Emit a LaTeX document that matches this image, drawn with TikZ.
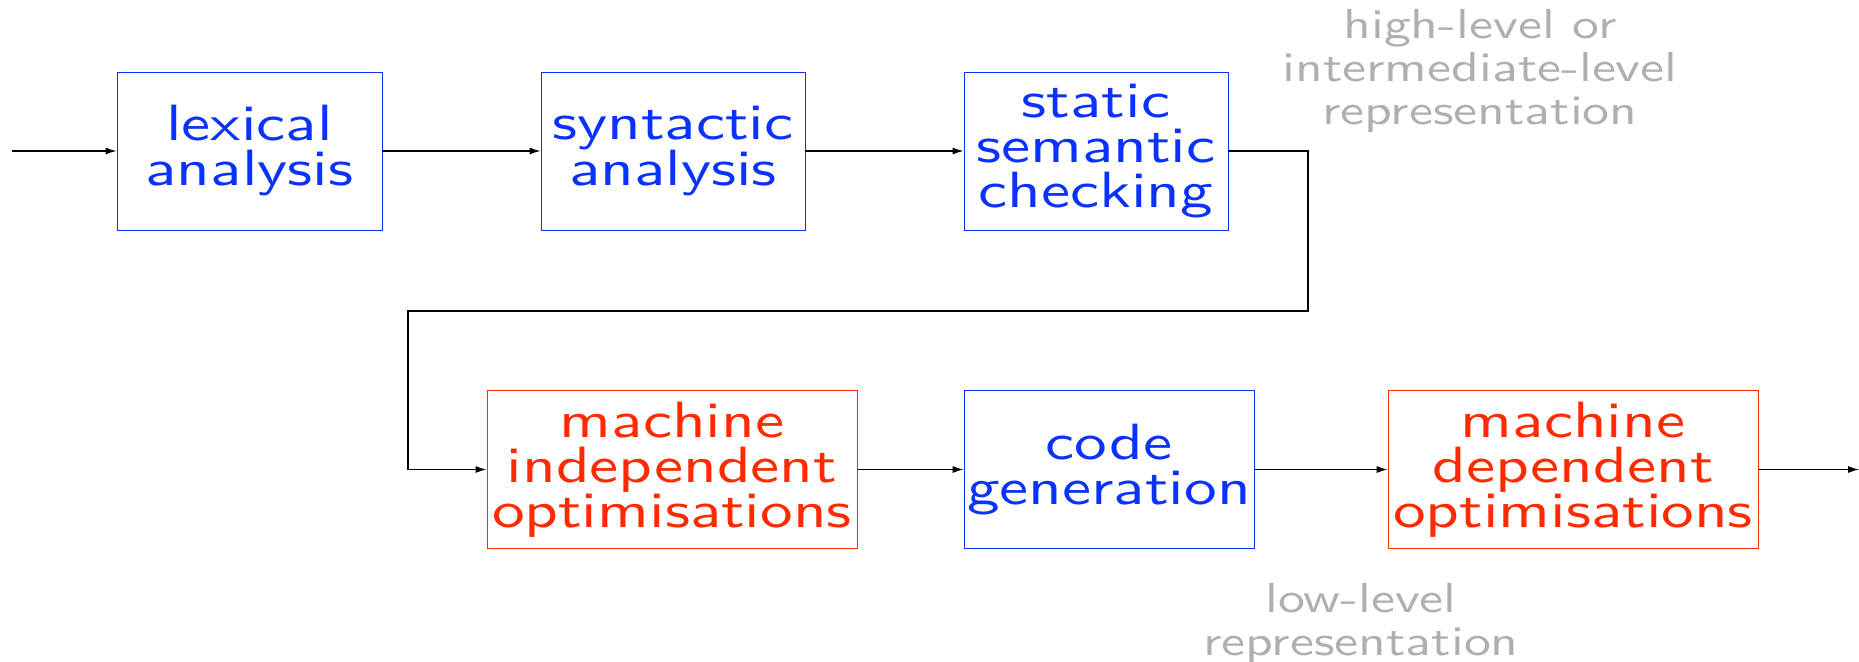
\documentclass[tikz,border=0pt]{standalone}
\usepackage{fontspec}
\usetikzlibrary{arrows.meta}
\newfontfamily\stagefont{lmsans10-regular.otf}[FakeStretch=1.28]
\definecolor{stageblue}{RGB}{10,50,255}
\definecolor{stagered}{RGB}{255,42,0}
\definecolor{notegray}{RGB}{175,175,175}
\tikzset{
  stagebox/.style={draw, line width=0.9pt, align=center, inner sep=0pt,
    minimum height=158pt, font=\stagefont\fontsize{51}{45}\selectfont},
  bluebox/.style={stagebox, draw=stageblue, text=stageblue},
  redbox/.style={stagebox, draw=stagered, text=stagered},
  flow/.style={line width=1.1pt, -{Latex[length=11pt,width=7pt]}},
  note/.style={align=center, text=notegray, inner sep=0pt,
    font=\stagefont\fontsize{42}{43}\selectfont}
}
\begin{document}
\begin{tikzpicture}[x=1pt, y=-1pt]
  \useasboundingbox (0,0) rectangle (1859,661);

  % front end: first row of phases
  \node[bluebox, minimum width=265pt] (lex) at (249.5,151) {lexical\\analysis};
  \node[bluebox, minimum width=264pt] (syn) at (673,151) {syntactic\\analysis};
  \node[bluebox, minimum width=264pt] (sem) at (1096,151) {static\\semantic\\checking};

  % back end: second row of phases
  \node[redbox, minimum width=370pt] (mio) at (672,469.5) {machine\\independent\\optimisations};
  \node[bluebox, minimum width=290pt] (cg) at (1109,469.5) {code\\generation};
  \node[redbox, minimum width=370pt] (mdo) at (1573,469.5) {machine\\dependent\\optimisations};

  % representation notes
  \node[note] (hl) at (1480,71) {high-level or\\intermediate-level\\representation};
  \node[note] (ll) at (1361,623) {low-level\\representation};

  % free ends and bends of the connectors
  \coordinate (in) at (12,151);
  \coordinate (out) at (1859,469.5);
  \coordinate (b1) at (1308,151);
  \coordinate (b2) at (1308,311);
  \coordinate (b3) at (408,311);
  \coordinate (b4) at (408,469.5);

  \draw[flow] (in) -- (lex);
  \draw[flow] (lex) -- (syn);
  \draw[flow] (syn) -- (sem);
  \draw[flow] (sem.east) -- (b1) -- (b2) -- (b3) -- (b4) -- (mio.west);
  \draw[flow] (mio) -- (cg);
  \draw[flow] (cg) -- (mdo);
  \draw[flow] (mdo) -- (out);
\end{tikzpicture}
\end{document}
